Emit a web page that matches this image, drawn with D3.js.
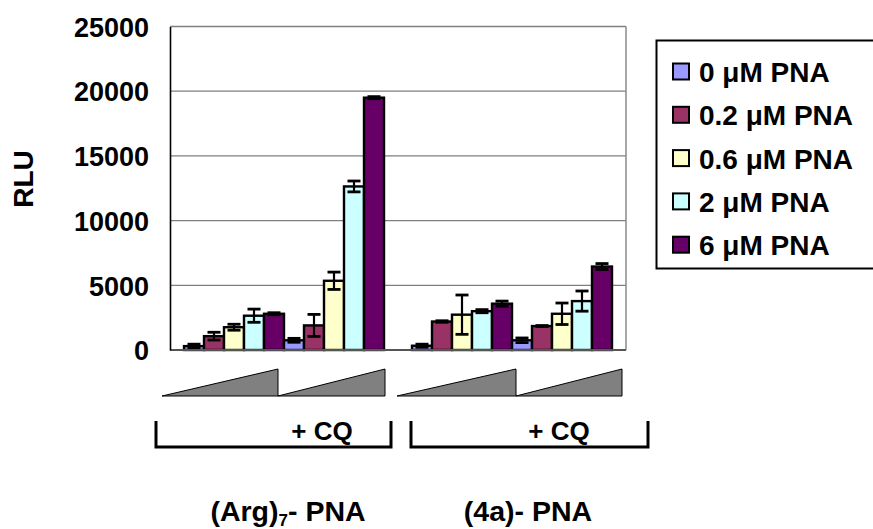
<!DOCTYPE html>
<html>
<head>
<meta charset="utf-8">
<script src="https://cdn.jsdelivr.net/npm/d3@7"></script>
<style>
  html, body { margin: 0; padding: 0; background: #fff; }
  svg { display: block; font-family: "Liberation Sans", Arial, sans-serif; font-weight: bold; }
</style>
</head>
<body>
<svg id="chart" width="873" height="529"></svg>
<script>
// Constructs and treatment groups
const constructs = ["(Arg)7- PNA", "(4a)- PNA"];
const treatments = ["none", "CQ"];
const seriesNames = ["0 \u03bcM PNA", "0.2 \u03bcM PNA", "0.6 \u03bcM PNA", "2 \u03bcM PNA", "6 \u03bcM PNA"];
const seriesColors = ["#9999ff", "#993366", "#ffffcc", "#ccffff", "#660066"];

// Mean RLU per PNA concentration, one array per construct/treatment group
const argNoCQ   = [300, 1070, 1760, 2650, 2800];
const argCQ     = [750, 1900, 5350, 12640, 19500];
const a4NoCQ    = [330, 2200, 2730, 3000, 3580];
const a4CQ      = [750, 1850, 2800, 3780, 6450];
// Error (± RLU)
const argNoCQErr = [150, 300, 230, 510, 80];
const argCQErr   = [150, 850, 670, 420, 80];
const a4NoCQErr  = [120, 60, 1520, 120, 200];
const a4CQErr    = [180, 40, 830, 780, 230];

const yTicks = [0, 5000, 10000, 15000, 20000, 25000];

const groups = [
  { construct: constructs[0], treatment: treatments[0], values: argNoCQ, errs: argNoCQErr },
  { construct: constructs[0], treatment: treatments[1], values: argCQ,   errs: argCQErr },
  { construct: constructs[1], treatment: treatments[0], values: a4NoCQ,  errs: a4NoCQErr },
  { construct: constructs[1], treatment: treatments[1], values: a4CQ,    errs: a4CQErr }
];

const svg = d3.select("#chart");
const plot = { left: 170, right: 626, top: 26.5, bottom: 350 };

const y = d3.scaleLinear().domain([0, 25000]).range([plot.bottom, plot.top]);
const xOuter = d3.scaleBand().domain(constructs).range([plot.left, plot.right])
  .paddingInner(28 / 228).paddingOuter(14 / 228);
const xTreat = d3.scaleBand().domain(treatments).range([0, xOuter.bandwidth()]);
const xSeries = d3.scaleBand().domain(d3.range(seriesNames.length)).range([0, xTreat.bandwidth()]);

// gridlines
svg.append("g").selectAll("line").data(yTicks.filter(d => d > 0)).join("line")
  .attr("x1", plot.left).attr("x2", plot.right)
  .attr("y1", d => y(d)).attr("y2", d => y(d))
  .attr("stroke", "#7f7f7f").attr("stroke-width", 1.3);

// right border of plot area
svg.append("line").attr("x1", plot.right).attr("x2", plot.right)
  .attr("y1", plot.top).attr("y2", plot.bottom)
  .attr("stroke", "#8a8a8a").attr("stroke-width", 1.5);

// bars
const flat = [];
groups.forEach(g => g.values.forEach((v, i) => flat.push({ g, i, v, e: g.errs[i] })));
const bx = d => xOuter(d.g.construct) + xTreat(d.g.treatment) + xSeries(d.i);

svg.append("g").selectAll("rect").data(flat).join("rect")
  .attr("x", d => bx(d))
  .attr("y", d => y(d.v))
  .attr("width", xSeries.bandwidth())
  .attr("height", d => y(0) - y(d.v))
  .attr("fill", d => seriesColors[d.i])
  .attr("stroke", "#000").attr("stroke-width", 2.4);

// error bars
const eb = svg.append("g").attr("stroke", "#000").attr("stroke-width", 2.2);
flat.forEach(d => {
  const cx = bx(d) + xSeries.bandwidth() / 2;
  const hi = y(d.v + d.e), lo = y(Math.max(0, d.v - d.e));
  eb.append("line").attr("x1", cx).attr("x2", cx).attr("y1", hi).attr("y2", lo);
  eb.append("line").attr("x1", cx - 6.5).attr("x2", cx + 6.5).attr("y1", hi).attr("y2", hi).attr("stroke-width", 2.8);
  eb.append("line").attr("x1", cx - 6.5).attr("x2", cx + 6.5).attr("y1", lo).attr("y2", lo).attr("stroke-width", 2.8);
});

// axes lines
svg.append("line").attr("x1", plot.left).attr("x2", plot.right)
  .attr("y1", plot.bottom).attr("y2", plot.bottom)
  .attr("stroke", "#555").attr("stroke-width", 2);
const yAxis = svg.append("g").attr("transform", `translate(${plot.left},0)`)
  .call(d3.axisLeft(y).tickValues(yTicks).tickSize(0).tickPadding(21).tickFormat(d3.format("d")));
yAxis.select(".domain").attr("stroke", "#000").attr("stroke-width", 1.6);
yAxis.selectAll("text").attr("font-size", 27).attr("font-weight", "bold")
  .attr("font-family", "Liberation Sans, Arial, sans-serif").attr("fill", "#000").attr("dy", "0.36em");

// y axis title
svg.append("text").attr("transform", "translate(33,179) rotate(-90)")
  .attr("text-anchor", "middle").attr("font-size", 28).text("RLU");

// concentration wedges
const wedges = [[162, 278], [278, 385], [397, 516], [516, 622]];
svg.append("g").selectAll("path").data(wedges).join("path")
  .attr("d", d => `M${d[0]},396 L${d[1]},369 L${d[1]},396 Z`)
  .attr("fill", "#808080").attr("stroke", "#000").attr("stroke-width", 1);

// brackets
const brackets = [[156, 391], [411, 648]];
svg.append("g").selectAll("path").data(brackets).join("path")
  .attr("d", d => `M${d[0]},421 V447 H${d[1]} V421`)
  .attr("fill", "none").attr("stroke", "#000").attr("stroke-width", 3);

svg.append("g").selectAll("text").data([322, 559]).join("text")
  .attr("x", d => d).attr("y", 440).attr("text-anchor", "middle")
  .attr("font-size", 26).text("+ CQ");

// construct labels
const lab1 = svg.append("text").attr("x", 288).attr("y", 521).attr("text-anchor", "middle").attr("font-size", 28.5);
lab1.append("tspan").text("(Arg)");
lab1.append("tspan").attr("font-size", 17).attr("dy", 5).text("7");
lab1.append("tspan").attr("dy", -5).text("- PNA");
svg.append("text").attr("x", 528).attr("y", 521).attr("text-anchor", "middle").attr("font-size", 28.5).text(constructs[1]);

// legend
const lg = svg.append("g");
lg.append("rect").attr("x", 656.5).attr("y", 40.5).attr("width", 218).attr("height", 228)
  .attr("fill", "#fff").attr("stroke", "#000").attr("stroke-width", 2);
const rows = lg.selectAll("g.row").data(seriesNames).join("g").attr("class", "row")
  .attr("transform", (d, i) => `translate(0,${72 + i * 43.3})`);
rows.append("rect").attr("x", 673).attr("y", -8.5).attr("width", 16).attr("height", 16)
  .attr("fill", (d, i) => seriesColors[i]).attr("stroke", "#000").attr("stroke-width", 2);
rows.append("text").attr("x", 699).attr("y", 0).attr("dy", "0.36em")
  .attr("font-size", 28).text(d => d);
</script>
</body>
</html>
